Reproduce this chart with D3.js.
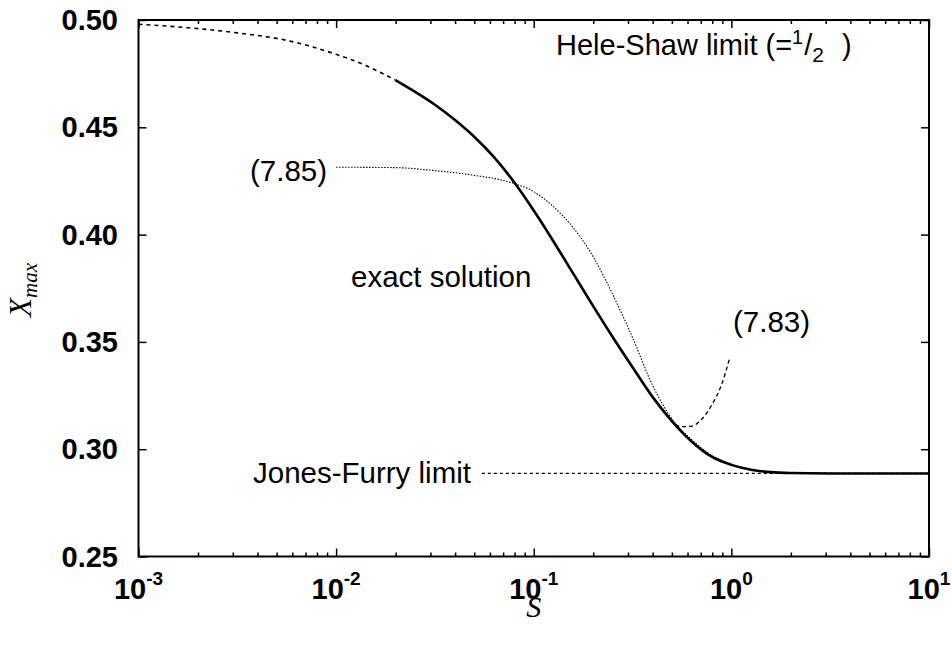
<!DOCTYPE html>
<html><head><meta charset="utf-8">
<script src="https://cdn.jsdelivr.net/npm/d3@7"></script>
<style>body{margin:0;background:#fff}svg{display:block}</style>
</head><body>
<svg id="c" width="951" height="647"></svg>
<script>
// ---- data (S on a log axis) ----
const exactS = [0.01995, 0.02512, 0.03162, 0.03981, 0.05012, 0.0631, 0.07943, 0.1, 0.1259, 0.1585, 0.1995, 0.2512, 0.3162, 0.3981, 0.5012, 0.631, 0.7943, 1.0, 1.259, 1.585, 1.995, 3.162, 10];
const exactX = [0.4720, 0.4665, 0.4605, 0.4535, 0.4455, 0.4360, 0.4245, 0.4112, 0.3968, 0.3818, 0.3668, 0.3522, 0.3382, 0.3245, 0.3130, 0.3035, 0.2965, 0.2927, 0.2904, 0.2893, 0.2889, 0.2887, 0.2887];
const extS = [0.001, 0.001778, 0.003162, 0.005623, 0.01, 0.01413, 0.01995];
const extX = [0.4980, 0.4964, 0.4940, 0.4905, 0.4840, 0.4788, 0.4720];
const s785S = [0.01, 0.01995, 0.03162, 0.05012, 0.07943, 0.1, 0.1259, 0.1585, 0.1995, 0.2512, 0.3162, 0.3981, 0.5012, 0.631, 0.7943, 1.0, 1.259, 1.585];
const s785X = [0.4314, 0.4312, 0.4298, 0.4276, 0.4238, 0.4200, 0.4130, 0.4032, 0.3898, 0.3720, 0.3520, 0.3300, 0.3140, 0.3043, 0.2972, 0.2930, 0.2906, 0.2894];
const s783S = [0.4467, 0.5012, 0.5623, 0.631, 0.7079, 0.7943, 0.8913, 0.9772];
const s783X = [0.3190, 0.3128, 0.3105, 0.3108, 0.3140, 0.3205, 0.3300, 0.3420];
const jfS = [0.0546, 10];
const jfX = [0.2887, 0.2887];
const xMajor = [-3, -2, -1, 0, 1];
const yTicks = [0.25, 0.30, 0.35, 0.40, 0.45, 0.50];

const svg = d3.select("#c");
const L = 138.5, R = 929, T = 20, B = 556.5;
const x = d3.scaleLog().domain([1e-3, 10]).range([L, R]);
const y = d3.scaleLinear().domain([0.25, 0.5]).range([B, T]);

// minor ticks
const minor = [];
for (let e = -3; e < 1; e++) for (let m = 2; m <= 9; m++) minor.push(m * Math.pow(10, e));
const major = xMajor.map(e => Math.pow(10, e));

function axisG(axis, tx, ty) {
  const g = svg.append("g").attr("transform", `translate(${tx},${ty})`).call(axis);
  g.select(".domain").remove();
  g.selectAll("text").remove();
  g.selectAll("line").attr("stroke", "#000").attr("stroke-width", 1.5);
  return g;
}
axisG(d3.axisBottom(x).tickValues(major).tickSize(-8), 0, B);
axisG(d3.axisBottom(x).tickValues(minor).tickSize(-4), 0, B);
axisG(d3.axisTop(x).tickValues(major).tickSize(-8), 0, T);
axisG(d3.axisTop(x).tickValues(minor).tickSize(-4), 0, T);
axisG(d3.axisLeft(y).tickValues(yTicks).tickSize(-8), L, 0);
axisG(d3.axisRight(y).tickValues(yTicks).tickSize(-8), R, 0);

// frame
svg.append("rect").attr("x", L).attr("y", T).attr("width", R - L).attr("height", B - T)
  .attr("fill", "none").attr("stroke", "#000").attr("stroke-width", 2);

// tick labels
const fontSans = "'Liberation Sans', Arial, Helvetica, sans-serif";
svg.append("g").selectAll("text").data(yTicks).join("text")
  .attr("x", 118).attr("y", d => y(d) + 10)
  .attr("text-anchor", "end").attr("font-family", fontSans).attr("font-weight", "bold")
  .attr("font-size", 29).text(d => d.toFixed(2));

const xl = svg.append("g").selectAll("text").data(xMajor).join("text")
  .attr("x", d => x(Math.pow(10, d))).attr("y", 599)
  .attr("text-anchor", "middle").attr("font-family", fontSans).attr("font-weight", "bold")
  .attr("font-size", 29);
xl.append("tspan").text("10");
xl.append("tspan").attr("dy", -14).attr("font-size", 19).text(d => String(d));

// curves
const line = d3.line().x(d => x(d[0])).y(d => y(d[1])).curve(d3.curveMonotoneX);
const zip = (a, b) => a.map((v, i) => [v, b[i]]);
function draw(sArr, xArr, w, dash) {
  svg.append("path").datum(zip(sArr, xArr)).attr("d", line)
    .attr("fill", "none").attr("stroke", "#000").attr("stroke-width", w)
    .attr("stroke-dasharray", dash);
}
draw(jfS, jfX, 1.2, "3,3");
draw(extS, extX, 1.6, "4,4");
draw(s785S, s785X, 1.1, "1.5,1.5");
draw(s783S, s783X, 1.3, "4,3");
draw(exactS, exactX, 2.6, null);

// annotations
function ann(tx, ty, str) {
  return svg.append("text").attr("x", tx).attr("y", ty).attr("font-family", fontSans)
    .attr("font-size", 29.5).attr("fill", "#000").text(str);
}
ann(250, 181, "(7.85)");
ann(351, 287, "exact solution");
ann(733, 332, "(7.83)");
ann(253, 483, "Jones-Furry limit");
const hs = svg.append("text").attr("x", 556).attr("y", 55).attr("font-family", fontSans)
  .attr("font-size", 29).attr("fill", "#000");
hs.append("tspan").text("Hele-Shaw limit (=");
hs.append("tspan").attr("dy", -11).attr("font-size", 20).text("1");
hs.append("tspan").attr("dy", 11).attr("dx", 1).text("/");
hs.append("tspan").attr("dy", 7).attr("font-size", 21).text("2");
hs.append("tspan").attr("dy", -7).attr("dx", 18).text(")");

// axis titles
const fontSerif = "'Liberation Serif', 'Times New Roman', serif";
svg.append("text").attr("x", (L + R) / 2).attr("y", 617).attr("text-anchor", "middle")
  .attr("font-family", fontSerif).attr("font-style", "italic").attr("font-size", 30).text("S");
const yl = svg.append("text").attr("transform", "translate(31,290) rotate(-90)")
  .attr("text-anchor", "middle").attr("font-family", fontSerif).attr("font-style", "italic")
  .attr("font-size", 31);
yl.append("tspan").text("X");
yl.append("tspan").attr("dy", 6).attr("font-size", 21).text("max");
</script>
</body></html>
